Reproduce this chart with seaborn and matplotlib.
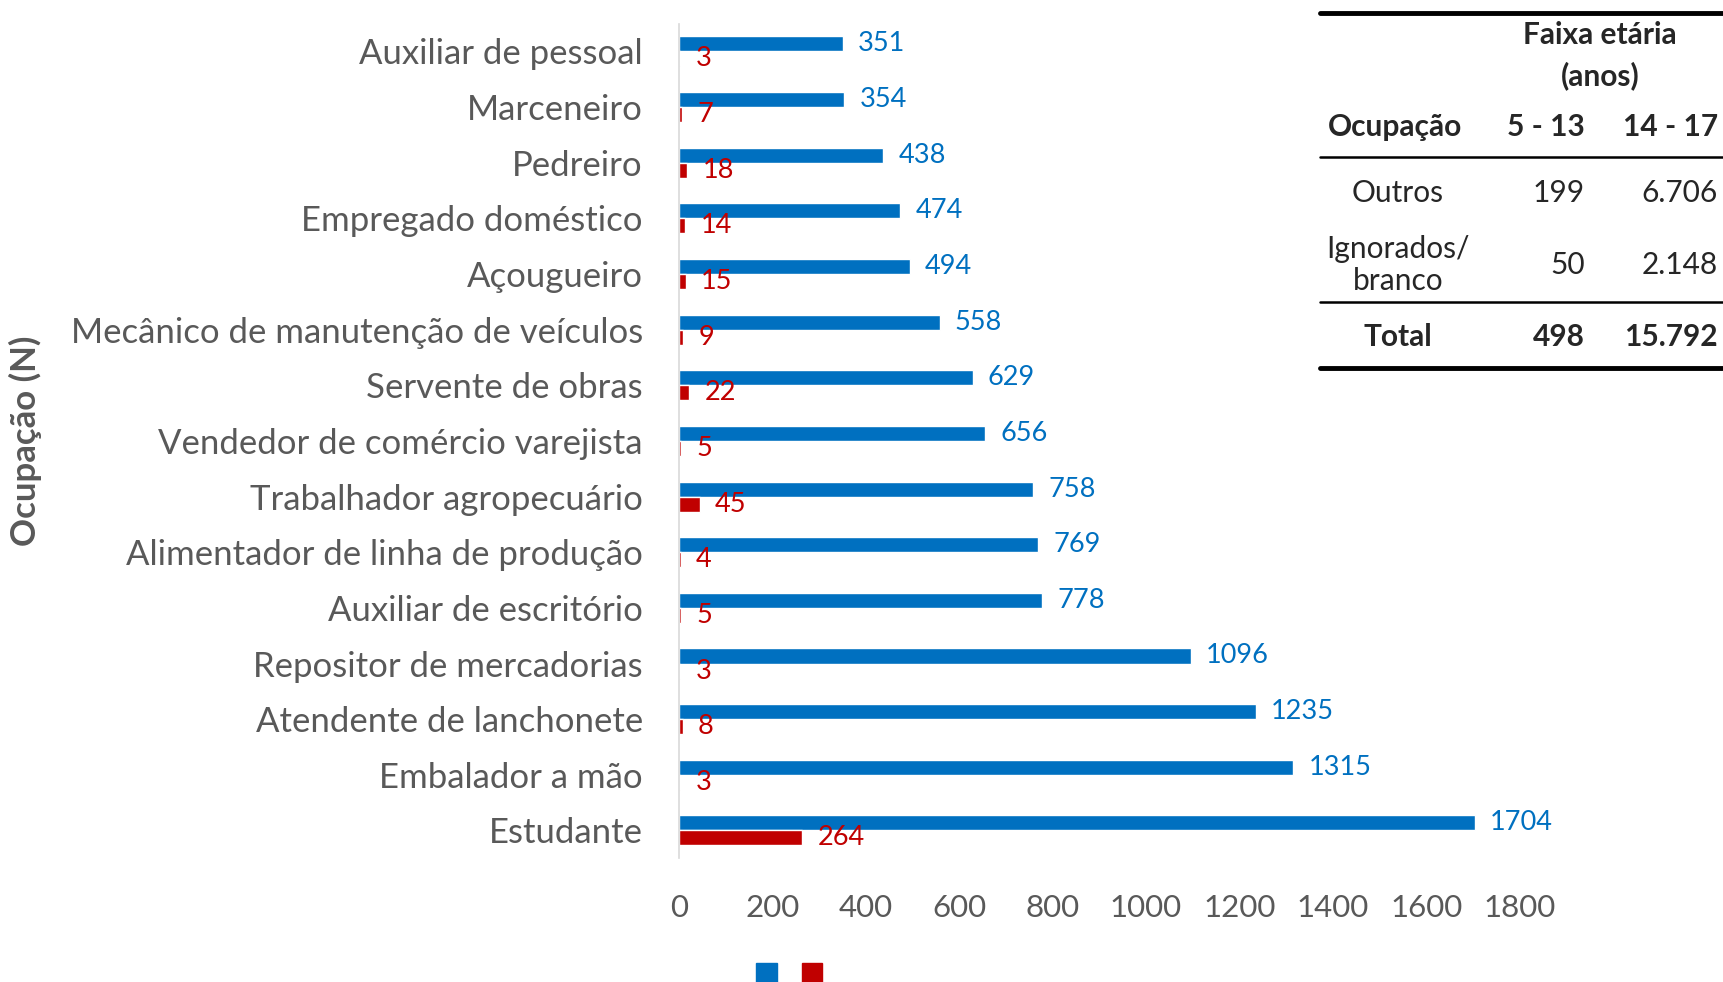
import pandas as pd
import matplotlib.pyplot as plt
import seaborn as sns
from matplotlib.patches import Patch
from matplotlib.lines import Line2D

# --- Dados ---
ocupacoes = ['Auxiliar de pessoal', 'Marceneiro', 'Pedreiro', 'Empregado doméstico',
             'Açougueiro', 'Mecânico de manutenção de veículos', 'Servente de obras',
             'Vendedor de comércio varejista', 'Trabalhador agropecuário',
             'Alimentador de linha de produção', 'Auxiliar de escritório',
             'Repositor de mercadorias', 'Atendente de lanchonete', 'Embalador a mão',
             'Estudante']
n_14_17 = [351, 354, 438, 474, 494, 558, 629, 656, 758, 769, 778, 1096, 1235, 1315, 1704]
n_5_13 = [3, 7, 18, 14, 15, 9, 22, 5, 45, 4, 5, 3, 8, 3, 264]
faixas = ['14 - 17', '5 - 13']
x_ticks = [0, 200, 400, 600, 800, 1000, 1200, 1400, 1600, 1800]

tab_linhas = ['Outros', 'Ignorados/\nbranco']
tab_5_13 = ['199', '50']
tab_14_17 = ['6.706', '2.148']
tab_total = ['Total', '498', '15.792']

azul = '#0070C0'
vermelho = '#C00000'
cinza = '#595959'

df = pd.DataFrame({
    'ocupacao': ocupacoes * 2,
    'faixa': [faixas[0]] * len(ocupacoes) + [faixas[1]] * len(ocupacoes),
    'n': n_14_17 + n_5_13,
})

# --- Estilo ---
sns.set_style('white')
plt.rcParams['font.family'] = ['Lato', 'DejaVu Sans']

fig = plt.figure(figsize=(17.23, 9.82), dpi=100)
ax = fig.add_axes([0.394, 0.126, 0.488, 0.85])

sns.barplot(data=df, y='ocupacao', x='n', hue='faixa', order=ocupacoes,
            hue_order=faixas, palette=[azul, vermelho], width=0.54, gap=0,
            orient='h', ax=ax, legend=False, saturation=1)

for container, cor in zip(ax.containers, [azul, vermelho]):
    ax.bar_label(container, fmt='%d', padding=11, color=cor, fontsize=19.5)

ax.set_xlim(0, 1800)
ax.set_ylim(len(ocupacoes) - 0.5, -0.5)
ax.set_xticks(x_ticks)
ax.tick_params(axis='x', labelsize=22.5, labelcolor=cinza, length=0, pad=26)
ax.tick_params(axis='y', labelsize=25, labelcolor=cinza, length=0, pad=26)
ax.set_xlabel('')
ax.set_ylabel('Ocupação (N)', fontsize=25, fontweight='bold', color=cinza)
ax.yaxis.set_label_coords(-0.757, 0.5)
for lado in ['top', 'right', 'bottom']:
    ax.spines[lado].set_visible(False)
ax.spines['left'].set_color('#D9D9D9')
ax.spines['left'].set_linewidth(1.2)

# Legenda (apenas os quadrados)
handles = [Patch(color=azul), Patch(color=vermelho)]
fig.legend(handles, ['', ''], loc='upper center', bbox_to_anchor=(0.458, 0.0194),
           ncol=2, frameon=False, fontsize=15, handlelength=1, handleheight=1,
           handletextpad=0, columnspacing=1.2, borderpad=0, borderaxespad=0)

# --- Tabela ---
W, H = 1723, 982

def fx(px):
    return px / W

def fy(py):
    return 1 - py / H

def linha(y, lw):
    fig.add_artist(Line2D([fx(1320), fx(1723)], [fy(y), fy(y)], color='black',
                          linewidth=lw, transform=fig.transFigure))

fs = 21.5
linha(13, 3.5)
fig.text(fx(1600), fy(35), 'Faixa etária', ha='center', va='center', fontsize=fs, fontweight='bold')
fig.text(fx(1600), fy(76), '(anos)', ha='center', va='center', fontsize=fs, fontweight='bold')
fig.text(fx(1395), fy(127), 'Ocupação', ha='center', va='center', fontsize=fs, fontweight='bold')
fig.text(fx(1585), fy(127), faixas[1], ha='right', va='center', fontsize=fs, fontweight='bold')
fig.text(fx(1718), fy(127), faixas[0], ha='right', va='center', fontsize=fs, fontweight='bold')
linha(157, 1.8)
for nome, v1, v2, yy in zip(tab_linhas, tab_5_13, tab_14_17, [193, 265]):
    fig.text(fx(1398), fy(yy), nome, ha='center', va='center', fontsize=fs,
             linespacing=1.2)
    fig.text(fx(1585), fy(yy), v1, ha='right', va='center', fontsize=fs)
    fig.text(fx(1718), fy(yy), v2, ha='right', va='center', fontsize=fs)
linha(302, 1.8)
fig.text(fx(1398), fy(337), tab_total[0], ha='center', va='center', fontsize=fs, fontweight='bold')
fig.text(fx(1585), fy(337), tab_total[1], ha='right', va='center', fontsize=fs, fontweight='bold')
fig.text(fx(1718), fy(337), tab_total[2], ha='right', va='center', fontsize=fs, fontweight='bold')
linha(368, 3.5)

fig.savefig('out.png', dpi=100)
plt.close(fig)
